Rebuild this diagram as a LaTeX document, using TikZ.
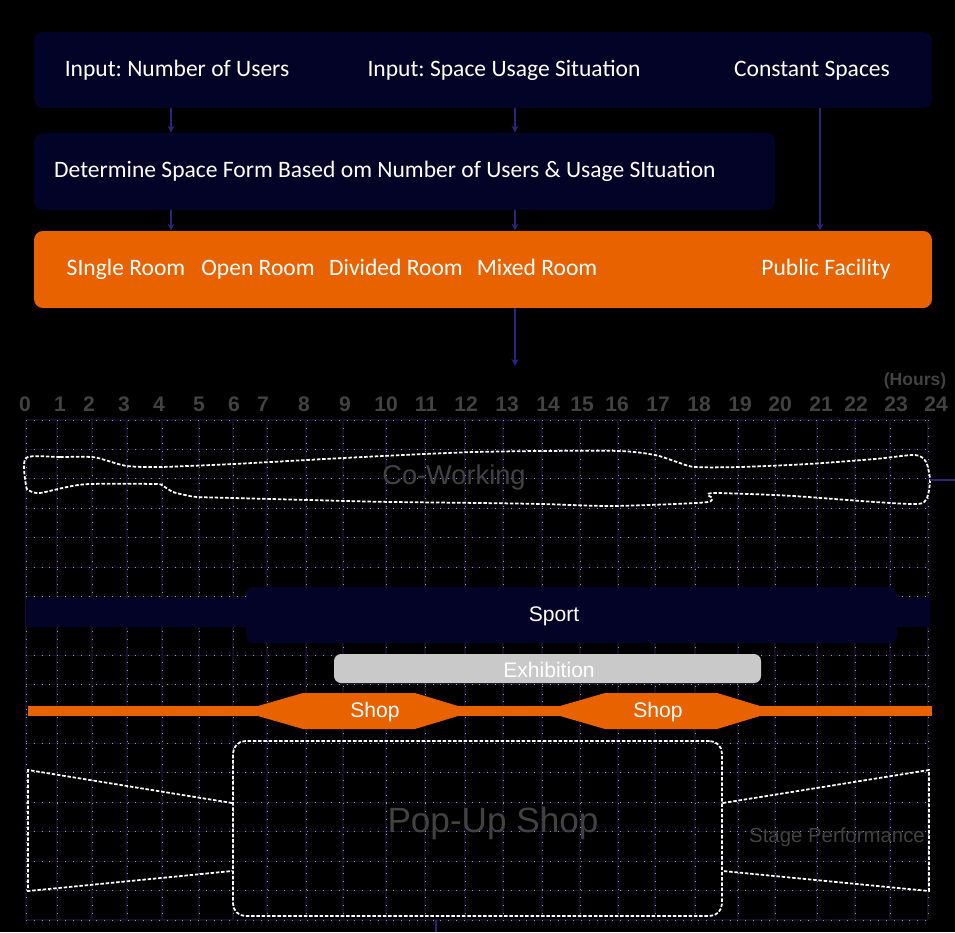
\documentclass[tikz,border=0pt]{standalone}
\usepackage{fontspec}
\setmainfont{Liberation Sans}
\newfontfamily\boxfont{Carlito}
\usetikzlibrary{arrows.meta}

\definecolor{navy}{RGB}{3,3,40}
\definecolor{roomorange}{RGB}{232,98,0}
\definecolor{linkblue}{RGB}{38,38,125}
\definecolor{fadegray}{RGB}{66,66,66}
\definecolor{exhgray}{RGB}{200,201,200}
\definecolor{gridpurple}{RGB}{22,14,40}

\frenchspacing
\begin{document}
\begin{tikzpicture}[
				x=0.02cm, y=-0.02cm,
				>={Stealth[length=4pt,width=4pt]},
				panel/.style={fill=navy, rounded corners=5pt, minimum width=17.96cm, minimum height=1.52cm, inner sep=0pt},
				boxtext/.style={text=white, font=\boxfont\fontsize{13.4pt}{16pt}\selectfont, text height=1.45ex, text depth=0.45ex},
				link/.style={->, draw=linkblue, line width=0.9pt},
				hour/.style={text=fadegray, font=\bfseries\fontsize{12pt}{14pt}\selectfont},
				faint/.style={text=fadegray},
				bartext/.style={text=white, font=\fontsize{12pt}{14pt}\selectfont},
				gridline/.style={draw=gridpurple, line width=0.6pt},
				griddot/.style={draw=white!60!black, line width=0.5pt, dash pattern=on 0.45pt off 4pt},
				outline/.style={draw=white, line width=1pt, dash pattern=on 2pt off 1pt}
				]
				
				% Fondo
				\fill[black] (0,0) rectangle (955,932);
				\useasboundingbox (0,0) rectangle (955,932);
				
				% Cajas
				\node[panel] (inputs) at (483,70) {};
				\node[panel, minimum width=14.82cm, minimum height=1.54cm] (determine) at (404.5,171.5) {};
				\node[panel, fill=roomorange, minimum height=1.54cm] (rooms) at (483,269.5) {};
				
				\node[boxtext] (users) at (177,72) {Input: Number of Users};
				\node[boxtext] (usage) at (504,72) {Input: Space Usage Situation};
				\node[boxtext] (constant) at (812,72) {Constant Spaces};
				\node[boxtext, anchor=west] (form) at (48,173) {Determine Space Form Based om Number of Users \& Usage SItuation};
				\node[boxtext] (single) at (126,271) {SIngle Room};
				\node[boxtext] (open) at (258,271) {Open Room};
				\node[boxtext] (divided) at (396,271) {Divided Room};
				\node[boxtext] (mixed) at (537,271) {Mixed Room};
				\node[boxtext] (public) at (826,271) {Public Facility};
				
				% Flechas
				\coordinate (c1) at (171,0);
				\coordinate (c2) at (515,0);
				\coordinate (c3) at (820,0);
				\coordinate (chart) at (515,366);
				\draw[link] (c1 |- inputs.south) -- (c1 |- determine.north);
				\draw[link] (c2 |- inputs.south) -- (c2 |- determine.north);
				\draw[link] (c3 |- inputs.south) -- (c3 |- rooms.north);
				\draw[link] (c1 |- determine.south) -- (c1 |- rooms.north);
				\draw[link] (c2 |- determine.south) -- (c2 |- rooms.north);
				\draw[link] (c2 |- rooms.south) -- (chart);
				
				% Horas
				\foreach \hx/\h in {25/0,60/1,89/2,124/3,159/4,199/5,234/6,263/7,304/8,345/9,386/10,426/11,466/12,507/13,548/14,582/15,617/16,658/17,699/18,740/19,780/20,821/21,856/22,896/23,936/24}
				\node[hour] (h\h) at (\hx,404) {\h};
				\node[faint, font=\bfseries\fontsize{10pt}{12pt}\selectfont] (hours) at (915,381) {(Hours)};
				
				% Rejilla
				\foreach \gx in {26,57,92,127,162,199,233,267,306,343,386,425,465,503,542,580,618,655,695,738,775,817,855,890,928} {
					\draw[gridline] (\gx,420) -- (\gx,920);
					\draw[griddot] (\gx,420) -- (\gx,920);
				}
				\foreach \k in {0,...,17} {
					\draw[gridline] (26,{420+\k*29.41}) -- (928,{420+\k*29.41});
					\draw[griddot] (26,{420+\k*29.41}) -- (928,{420+\k*29.41});
				}
				
				% Co-Working
				\draw[outline] plot[smooth cycle, tension=0.45] coordinates {
					(26,458) (60,457) (92,457) (105,460) (127,466) (160,467) (233,464) (307,460)
					(343,458) (425,454) (475,452) (540,451) (620,451) (655,455) (677,462) (695,467)
					(740,467) (808,464) (875,459) (915,455) (926,462) (930,480) (927,498) (918,504)
					(875,502) (808,497) (775,495) (715,493) (708,495) (712,498) (708,502) (675,504)
					(608,506) (542,504) (480,503) (393,502) (347,501) (233,498) (197,497) (185,495)
					(173,492) (163,486) (155,484) (90,484) (67,487) (40,493) (30,491) (26,486)};
				\node[faint, font=\fontsize{15.5pt}{18pt}\selectfont] (cowork) at (454,477) {Co-Working};
				\coordinate (cwend) at (930,480);
				\coordinate (cwexit) at (955,480);
				\draw[draw=linkblue, line width=0.9pt] (cwend) -- (cwexit);
				
				% Sport
				\fill[navy] (26,598) rectangle (930,627);
				\fill[navy, rounded corners=4pt] (246,587) rectangle (897,643);
				\node[bartext] (sport) at (554,616) {Sport};
				
				% Exhibition
				\fill[exhgray, rounded corners=4pt] (334,654) rectangle (761,683);
				\node[bartext] (exhibition) at (549,670) {Exhibition};
				
				% Shop
				\fill[roomorange] (28,706) rectangle (932,716);
				\foreach \sx in {258,560}
				\fill[roomorange] (\sx,706) -- ++(45,-13) -- ++(112,0) -- ++(43,13) -- ++(0,10) -- ++(-43,13) -- ++(-112,0) -- ++(-45,-13) -- cycle;
				\node[bartext] (shop1) at (375,712) {Shop};
				\node[bartext] (shop2) at (658,712) {Shop};
				
				% Pop-Up Shop
				\node[outline, rounded corners=7pt, minimum width=9.78cm, minimum height=3.5cm, inner sep=0pt] (popup) at (477.5,828.5) {};
				\node[faint, font=\fontsize{20pt}{24pt}\selectfont] (popuptext) at (493,823) {Pop-Up Shop};
				\coordinate (popexit) at (436,920);
				\coordinate (popbottom) at (436,932);
				\draw[draw=linkblue, line width=0.9pt] (popexit) -- (popbottom);
				
				% Stage Performance
				\draw[outline] (popup.west |- 0,803) -- (28,770) -- (28,891) -- (popup.west |- 0,871);
				\draw[outline] (popup.east |- 0,803) -- (929,770) -- (929,891) -- (popup.east |- 0,871);
				\node[faint, font=\fontsize{11.6pt}{14pt}\selectfont] (stage) at (837,837) {Stage Performance};
				
			\end{tikzpicture}
\end{document}
